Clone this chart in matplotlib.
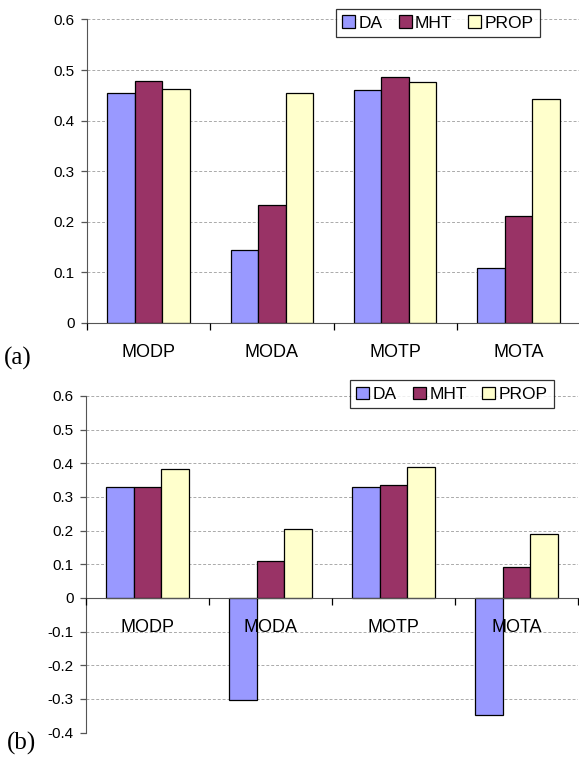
import numpy as np
import matplotlib.pyplot as plt

categories = ['MODP', 'MODA', 'MOTP', 'MOTA']
series = ['DA', 'MHT', 'PROP']
colors = ['#9999FF', '#993366', '#FFFFCC']

# (a)
vals_a = {
    'DA':   [0.454, 0.143, 0.461, 0.109],
    'MHT':  [0.478, 0.232, 0.486, 0.211],
    'PROP': [0.462, 0.455, 0.476, 0.442],
}
# (b)
vals_b = {
    'DA':   [0.330, -0.304, 0.331, -0.349],
    'MHT':  [0.329, 0.111, 0.335, 0.091],
    'PROP': [0.384, 0.206, 0.389, 0.189],
}

yticks_a = [0, 0.1, 0.2, 0.3, 0.4, 0.5, 0.6]
yticks_b = [-0.4, -0.3, -0.2, -0.1, 0, 0.1, 0.2, 0.3, 0.4, 0.5, 0.6]

plt.rcParams['font.family'] = ['Liberation Sans', 'DejaVu Sans']

fig = plt.figure(figsize=(5.79, 7.58), dpi=100)
ax1 = fig.add_axes([0.1503, 0.5743, 0.8515, 0.400])
ax2 = fig.add_axes([0.1485, 0.0336, 0.8500, 0.4440])

bw = 0.223
x = np.arange(len(categories))
spine_col = '#555555'


def draw(ax, vals, yticks, ylim, leg_anchor):
    for i, s in enumerate(series):
        ax.bar(x + (i - 1) * bw, vals[s], width=bw, color=colors[i],
               edgecolor='black', linewidth=0.9, label=s, zorder=3)
    ax.set_xlim(-0.5, len(categories) - 0.5)
    ax.set_ylim(*ylim)
    ax.set_yticks(yticks)
    ax.set_yticklabels(['0' if t == 0 else f'{t:.1f}' for t in yticks], fontsize=11)
    ax.yaxis.grid(True, linestyle=(0, (3, 2)), color='#aaaaaa', linewidth=0.7, zorder=0)
    for side in ['top', 'right']:
        ax.spines[side].set_visible(False)
    ax.spines['left'].set_color(spine_col)
    ax.spines['bottom'].set_color(spine_col)
    ax.spines['bottom'].set_position(('data', 0))
    ax.spines['bottom'].set_zorder(4)
    ax.tick_params(axis='y', length=4.5, color=spine_col, width=0.9, pad=4.5)
    # boundary ticks on the category axis, labels at the centers
    ax.set_xticks(np.arange(-0.5, len(categories), 1.0))
    ax.set_xticklabels([])
    ax.tick_params(axis='x', which='major', length=5, direction='out', color='black', width=0.9)
    ax.set_xticks(x, minor=True)
    ax.set_xticklabels(categories, minor=True, fontsize=13)
    ax.tick_params(axis='x', which='minor', length=0, pad=15)
    ax.xaxis.set_zorder(5)
    leg = ax.legend(loc='upper center', bbox_to_anchor=leg_anchor, ncol=3,
                    fontsize=12.5, frameon=True, fancybox=False, shadow=False,
                    handlelength=0.75, handleheight=0.75, handletextpad=0.2,
                    columnspacing=0.9, borderpad=0.35, borderaxespad=0)
    leg.get_frame().set_edgecolor('black')
    leg.get_frame().set_linewidth(0.9)
    leg.set_zorder(6)


draw(ax1, vals_a, yticks_a, (0, 0.6), (0.712, 1.034))
draw(ax2, vals_b, yticks_b, (-0.4, 0.6), (0.744, 1.046))

fig.text(0.007, 1 - 358 / 758, '(a)', family='Liberation Serif', fontsize=18, va='center')
fig.text(0.012, 1 - 743 / 758, '(b)', family='Liberation Serif', fontsize=18, va='center')

fig.savefig('out.png', dpi=100)
